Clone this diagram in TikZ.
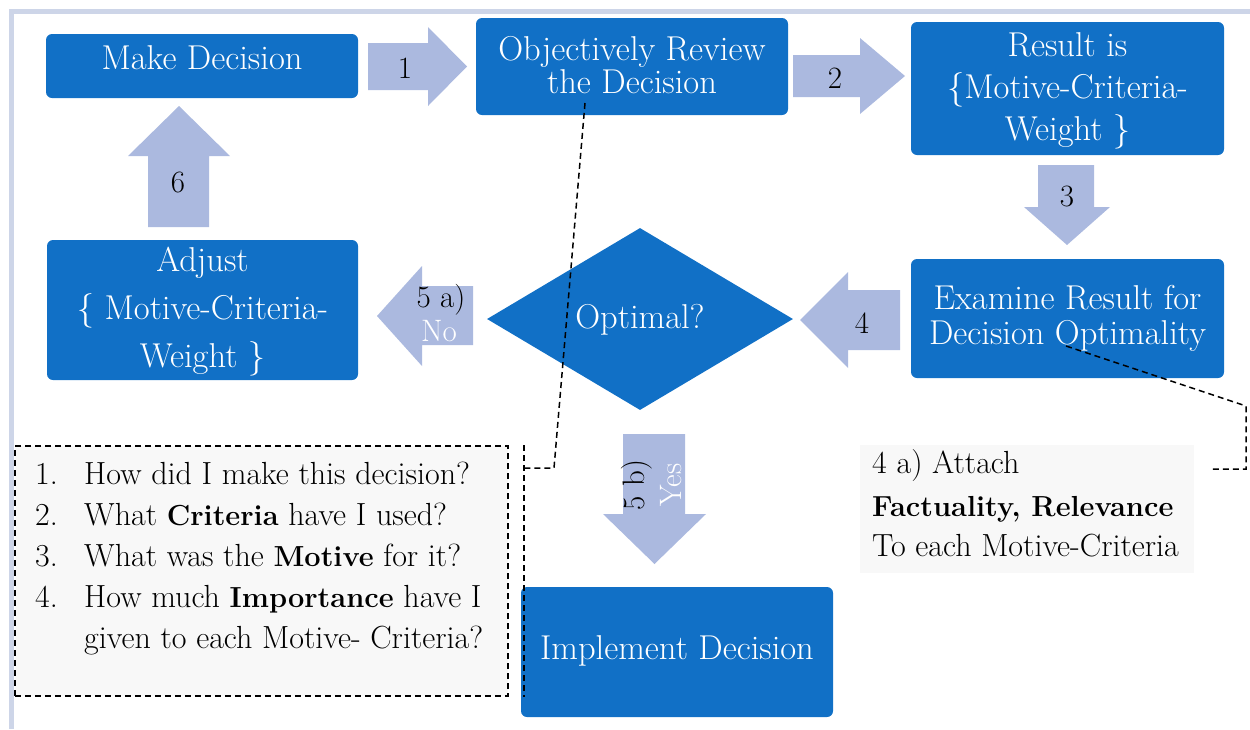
\documentclass[tikz,border=0pt]{standalone}
\usepackage{tikz}
\usetikzlibrary{shapes.geometric}
\definecolor{boxblue}{HTML}{1170C6}
\definecolor{arrowblue}{HTML}{ABB9DF}
\definecolor{framecol}{HTML}{CDD5E8}
\definecolor{notefill}{HTML}{F8F8F8}
\newcommand\fsz[2]{\fontsize{#1}{#2}\selectfont}
\newcommand\bt[1]{{\bfseries\fontsize{29}{36}\selectfont #1}}
\tikzset{
  box/.style={fill=boxblue, rounded corners=6pt, draw=none, inner sep=0pt},
  boxtext/.style={text=white, align=center, inner sep=0pt, font=\fsz{34.5}{42}},
  blockarrow/.style={fill=arrowblue, draw=none},
  steplabel/.style={font=\fsz{31}{34}, text=black, inner sep=0pt},
  callout/.style={draw=black, dash pattern=on 6pt off 4pt, line width=1.5pt},
  frameline/.style={draw=framecol, line width=4.5pt},
  notebox/.style={fill=notefill, draw=none, inner sep=0pt},
  qtext/.style={font=\fsz{32}{36}, anchor=base west, inner sep=0pt},
}
\begin{document}
\begin{tikzpicture}[x=1pt,y=-1pt]
\useasboundingbox (0,0) rectangle (1250,729);
\draw[frameline] (11.5,729) -- (11.5,11.5) -- (1250,11.5);

% boxes
\node[box, minimum width=312pt, minimum height=64pt] (make) at (202,66) {};
\node[boxtext] (maket) at (202,58) {Make Decision};
\node[box, minimum width=312pt, minimum height=97pt] (obj) at (632,66.5) {};
\node[boxtext, font=\fsz{34.5}{33}] (objt) at (632,65.5) {Objectively Review\\the Decision};
\node[box, minimum width=313pt, minimum height=133pt] (res) at (1067.5,88.5) {};
\node[boxtext] (rest) at (1067.5,91) {Result is\\\{Motive-Criteria-\\Weight \}};
\node[box, minimum width=313pt, minimum height=119pt] (exa) at (1067.5,318.5) {};
\node[boxtext, font=\fsz{34.5}{35}] (exat) at (1067.5,318.5) {Examine Result for\\Decision Optimality};
\node[box, minimum width=311pt, minimum height=140pt] (adj) at (202.5,310) {};
\node[boxtext, font=\fsz{34.5}{48}] (adjt) at (202.5,312) {Adjust\\\{ Motive-Criteria-\\Weight \}};
\node[box, minimum width=312pt, minimum height=130pt] (imp) at (677,652) {};
\node[boxtext] (impt) at (677,651) {Implement Decision};
\node[diamond, fill=boxblue, aspect=1.68, minimum width=306pt, minimum height=182pt, inner sep=0pt] (opt) at (640,319) {};
\node[boxtext] (optt) at (640,320) {Optimal?};

% block arrows
\fill[blockarrow] (368,43) -- (428,43) -- (428,27) -- (467,66.5) -- (428,106) -- (428,90) -- (368,90) -- cycle;
\node[steplabel] (l1) at (405,68) {1};
\fill[blockarrow] (793,55) -- (860,55) -- (860,38) -- (905,76) -- (860,114) -- (860,97) -- (793,97) -- cycle;
\node[steplabel] (l2) at (835,78) {2};
\fill[blockarrow] (1038,165) -- (1094,165) -- (1094,207) -- (1110,207) -- (1067,245) -- (1024,207) -- (1038,207) -- cycle;
\node[steplabel] (l3) at (1067,196) {3};
\fill[blockarrow] (900,290) -- (848,290) -- (848,272) -- (800,320) -- (848,368) -- (848,350) -- (900,350) -- cycle;
\node[steplabel] (l4) at (862,323) {4};
\fill[blockarrow] (473,286) -- (422,286) -- (422,266) -- (377,316) -- (422,366) -- (422,345) -- (473,345) -- cycle;
\node[steplabel] (l5a) at (441,300) {5 a)};
\node[steplabel, text=white] (l5ano) at (439,331) {No};
\fill[blockarrow] (148,227) -- (148,156) -- (128,156) -- (179,106) -- (230,156) -- (209,156) -- (209,227) -- cycle;
\node[steplabel] (l6) at (178,182) {6};
\fill[blockarrow] (623,434) -- (685,434) -- (685,514) -- (706,514) -- (654.5,564) -- (603,514) -- (623,514) -- cycle;
\node[steplabel, rotate=90] (l5b) at (637,485) {5 b)};
\node[steplabel, text=white, rotate=90] (l5byes) at (671,485) {Yes};

% question callout
\node[notebox, callout, minimum width=493pt, minimum height=250pt] (qbox) at (261.5,571) {};
\node[qtext] (q1n) at (35,484) {1.};
\node[qtext] (q1) at (84,484) {How did I make this decision?};
\node[qtext] (q2n) at (35,525) {2.};
\node[qtext] (q2) at (84,525) {What \bt{Criteria} have I used?};
\node[qtext] (q3n) at (35,566) {3.};
\node[qtext] (q3) at (84,566) {What was the \bt{Motive} for it?};
\node[qtext] (q4n) at (35,607) {4.};
\node[qtext] (q4) at (84,607) {How much \bt{Importance} have I};
\node[qtext] (q4b) at (84,648) {given to each Motive- Criteria?};

% 4a note
\node[notebox, minimum width=334pt, minimum height=128pt] (note) at (1027,509) {};
\node[qtext] (n1) at (872,473) {4 a) Attach};
\node[qtext] (n2) at (872,516) {\bt{Factuality, Relevance}};
\node[qtext] (n3) at (872,556) {To each Motive-Criteria};

% callout lines
\coordinate (c1s) at (585,103);
\coordinate (c1m) at (554,468);
\coordinate (c1e) at (524,468);
\coordinate (bar1t) at (524,445);
\coordinate (bar1b) at (524,697);
\draw[callout] (c1s) -- (c1m) -- (c1e);
\draw[callout] (bar1t) -- (bar1b);
\coordinate (c2s) at (1066,346);
\coordinate (c2m) at (1246,406);
\coordinate (c2n) at (1246,469);
\coordinate (c2e) at (1210,469);
\draw[callout] (c2s) -- (c2m) -- (c2n) -- (c2e);
\end{tikzpicture}
\end{document}
